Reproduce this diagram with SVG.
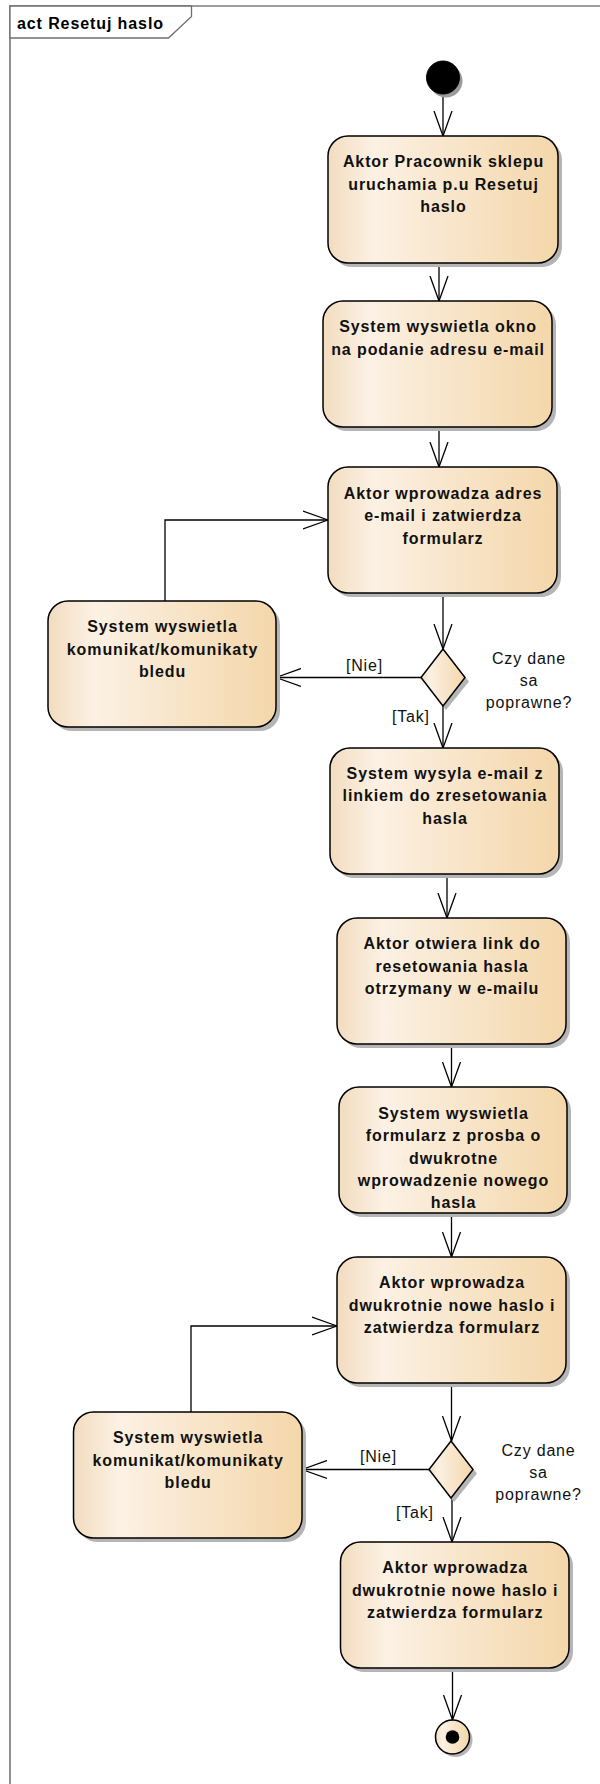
<svg xmlns="http://www.w3.org/2000/svg" width="600" height="1784" viewBox="0 0 600 1784">
  <style>
    .frame { fill: none; stroke: #7f7f7f; stroke-width: 1.7; }
    .tab { fill: #ffffff; stroke: #6f6f6f; stroke-width: 1.3; }
    .title { font-family: "Liberation Sans", Arial, sans-serif; font-size: 16px; font-weight: bold; letter-spacing: 0.9px; fill: #000; }
    .box { fill: url(#fill); stroke: #000; stroke-width: 1.5; }
    .shadow { fill: #b5b5b5; }
    .t { font-family: "Liberation Sans", Arial, sans-serif; font-size: 16px; font-weight: bold; letter-spacing: 0.9px; text-anchor: middle; fill: #111; }
    .lbl { font-family: "Liberation Sans", Arial, sans-serif; font-size: 16px; letter-spacing: 0.8px; fill: #111; }
    .mid { text-anchor: middle; }
    .edge { fill: none; stroke: #000; stroke-width: 1.3; marker-end: url(#arr); }
  </style>
  <defs>
    <linearGradient id="fill" x1="0" y1="0" x2="1" y2="0">
      <stop offset="0" stop-color="#F2DCBF"/>
      <stop offset="0.2" stop-color="#FCF1E4"/>
      <stop offset="0.55" stop-color="#F8E5CA"/>
      <stop offset="1" stop-color="#F4D7AA"/>
    </linearGradient>
    <marker id="arr" viewBox="0 0 26 20" refX="25" refY="10" markerWidth="26" markerHeight="20" markerUnits="userSpaceOnUse" orient="auto">
      <path d="M0,1 L25,10 L0,19" fill="none" stroke="#000" stroke-width="1.3"/>
    </marker>
  </defs>

  <rect width="600" height="1784" fill="#ffffff"/>

  <!-- diagram frame with its name tab -->
  <g id="frame">
    <path class="frame" d="M10,1800 L10,6 L610,6"/>
    <path class="tab" d="M10,6 L191.5,6 L191.5,16.5 L168.5,38 L10,38 Z"/>
    <text class="title" x="17" y="28.5">act Resetuj haslo</text>
  </g>

  <!-- control flows -->
  <g id="connectors">
    <path class="edge" d="M443,94 L443,136"/>
    <path class="edge" d="M439,263 L439,301"/>
    <path class="edge" d="M439,427 L439,467"/>
    <path class="edge" d="M443,593 L443,649"/>
    <path class="edge" d="M421,677.5 L276,677.5"/>
    <path class="edge" d="M165,601 L165,520 L328,520"/>
    <path class="edge" d="M443,706 L443,748"/>
    <path class="edge" d="M447,874 L447,918"/>
    <path class="edge" d="M451.5,1044 L451.5,1087"/>
    <path class="edge" d="M451.5,1213 L451.5,1257"/>
    <path class="edge" d="M451.5,1383 L451.5,1441"/>
    <path class="edge" d="M429,1469.5 L302,1469.5"/>
    <path class="edge" d="M191,1412 L191,1326 L337,1326"/>
    <path class="edge" d="M452,1498 L452,1542"/>
    <path class="edge" d="M452.5,1668 L452.5,1720"/>
    <text class="lbl" x="346" y="671">[Nie]</text>
    <text class="lbl" x="392" y="721.5">[Tak]</text>
    <text class="lbl" x="360" y="1461.5">[Nie]</text>
    <text class="lbl" x="396" y="1517.5">[Tak]</text>
  </g>

  <g id="start">
    <circle cx="446" cy="81" r="16.5" fill="#9a9a9a"/>
    <circle cx="443" cy="77.5" r="16.5" fill="#000" stroke="#000" stroke-width="1"/>
  </g>

  <g id="n1">
    <rect class="shadow" x="332" y="140" width="230" height="127" rx="20"/>
    <rect class="box" x="328" y="136" width="230" height="127" rx="20"/>
    <text class="t" x="443.5" y="167">Aktor Pracownik sklepu</text>
    <text class="t" x="443.5" y="189.5">uruchamia p.u Resetuj</text>
    <text class="t" x="443.5" y="212">haslo</text>
  </g>

  <g id="n2">
    <rect class="shadow" x="327" y="305" width="229" height="126" rx="20"/>
    <rect class="box" x="323" y="301" width="229" height="126" rx="20"/>
    <text class="t" x="438" y="332">System wyswietla okno</text>
    <text class="t" x="438" y="354.5">na podanie adresu e-mail</text>
  </g>

  <g id="n3">
    <rect class="shadow" x="332" y="471" width="229" height="126" rx="20"/>
    <rect class="box" x="328" y="467" width="229" height="126" rx="20"/>
    <text class="t" x="443" y="498.5">Aktor wprowadza adres</text>
    <text class="t" x="443" y="521">e-mail i zatwierdza</text>
    <text class="t" x="443" y="543.5">formularz</text>
  </g>

  <g id="err1">
    <rect class="shadow" x="52" y="605" width="228" height="126" rx="20"/>
    <rect class="box" x="48" y="601" width="228" height="126" rx="20"/>
    <text class="t" x="162.5" y="632">System wyswietla</text>
    <text class="t" x="162.5" y="654.5">komunikat/komunikaty</text>
    <text class="t" x="162.5" y="677">bledu</text>
  </g>

  <g id="d1">
    <path d="M446,653 L469,681.5 L446,710 L424,681.5 Z" fill="#b5b5b5"/>
    <path class="box" d="M443,649 L465,677.5 L443,706 L421,677.5 Z"/>
    <text class="lbl mid" x="529" y="663.5">Czy dane</text>
    <text class="lbl mid" x="529" y="685.5">sa</text>
    <text class="lbl mid" x="529" y="707.5">poprawne?</text>
  </g>

  <g id="n4">
    <rect class="shadow" x="334" y="752" width="229" height="126" rx="20"/>
    <rect class="box" x="330" y="748" width="229" height="126" rx="20"/>
    <text class="t" x="445" y="778.5">System wysyla e-mail z</text>
    <text class="t" x="445" y="801">linkiem do zresetowania</text>
    <text class="t" x="445" y="823.5">hasla</text>
  </g>

  <g id="n5">
    <rect class="shadow" x="341" y="922" width="229" height="126" rx="20"/>
    <rect class="box" x="337" y="918" width="229" height="126" rx="20"/>
    <text class="t" x="452" y="949">Aktor otwiera link do</text>
    <text class="t" x="452" y="971.5">resetowania hasla</text>
    <text class="t" x="452" y="994">otrzymany w e-mailu</text>
  </g>

  <g id="n6">
    <rect class="shadow" x="343" y="1091" width="228" height="126" rx="20"/>
    <rect class="box" x="339" y="1087" width="228" height="126" rx="20"/>
    <text class="t" x="453.5" y="1118.5">System wyswietla</text>
    <text class="t" x="453.5" y="1141">formularz z prosba o</text>
    <text class="t" x="453.5" y="1163.5">dwukrotne</text>
    <text class="t" x="453.5" y="1185.5">wprowadzenie nowego</text>
    <text class="t" x="453.5" y="1207.5">hasla</text>
  </g>

  <g id="n7">
    <rect class="shadow" x="341" y="1261" width="229" height="126" rx="20"/>
    <rect class="box" x="337" y="1257" width="229" height="126" rx="20"/>
    <text class="t" x="452" y="1288">Aktor wprowadza</text>
    <text class="t" x="452" y="1310.5">dwukrotnie nowe haslo i</text>
    <text class="t" x="452" y="1333">zatwierdza formularz</text>
  </g>

  <g id="err2">
    <rect class="shadow" x="77.5" y="1416" width="228.5" height="126" rx="20"/>
    <rect class="box" x="73.5" y="1412" width="228.5" height="126" rx="20"/>
    <text class="t" x="188.2" y="1443">System wyswietla</text>
    <text class="t" x="188.2" y="1465.5">komunikat/komunikaty</text>
    <text class="t" x="188.2" y="1488">bledu</text>
  </g>

  <g id="d2">
    <path d="M454,1445 L477,1473.5 L454,1502 L432,1473.5 Z" fill="#b5b5b5"/>
    <path class="box" d="M451,1441 L473,1469.5 L451,1498 L429,1469.5 Z"/>
    <text class="lbl mid" x="538.5" y="1456">Czy dane</text>
    <text class="lbl mid" x="538.5" y="1478">sa</text>
    <text class="lbl mid" x="538.5" y="1500">poprawne?</text>
  </g>

  <g id="n8">
    <rect class="shadow" x="344.5" y="1546" width="228.5" height="126" rx="20"/>
    <rect class="box" x="340.5" y="1542" width="228.5" height="126" rx="20"/>
    <text class="t" x="455.2" y="1573">Aktor wprowadza</text>
    <text class="t" x="455.2" y="1595.5">dwukrotnie nowe haslo i</text>
    <text class="t" x="455.2" y="1618">zatwierdza formularz</text>
  </g>

  <g id="end">
    <circle cx="455.5" cy="1740" r="17" fill="#b5b5b5"/>
    <circle cx="452.5" cy="1737" r="17" fill="url(#fill)" stroke="#000" stroke-width="1.5"/>
    <circle cx="452.5" cy="1737" r="6.8" fill="#000"/>
  </g>
</svg>
